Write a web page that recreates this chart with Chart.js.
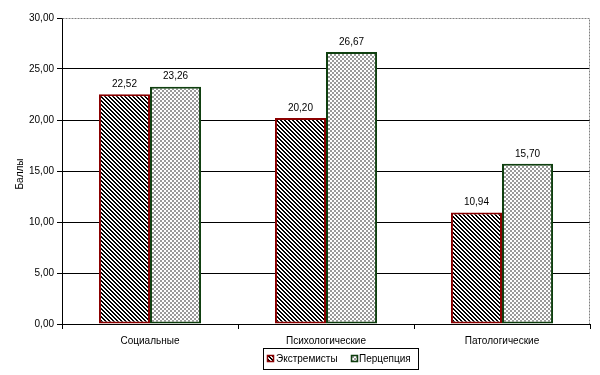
<!DOCTYPE html>
<html>
<head>
<meta charset="utf-8">
<script src="https://cdn.jsdelivr.net/npm/chart.js@4"></script>
<style>
html,body{margin:0;padding:0;background:#fff;}
#wrap{width:600px;height:375px;position:relative;}
</style>
</head>
<body>
<div id="wrap"><canvas id="c" width="600" height="375"></canvas></div>
<script>
const categories = ["Социальные", "Психологические", "Патологические"];
const seriesNames = ["Экстремисты", "Перцепция"];
const extremists = [22.52, 20.20, 10.94];
const perception = [23.26, 26.67, 15.70];
const yTicks = [0, 5, 10, 15, 20, 25, 30];
const yTitle = "Баллы";

const FONT = "'Liberation Sans', Arial, sans-serif";
const RED = '#8B0000';
const GREEN = '#0F3F0F';

function stripePattern(){
  const c = document.createElement('canvas');
  c.width = 8; c.height = 8;
  const g = c.getContext('2d');
  g.fillStyle = '#fff'; g.fillRect(0,0,8,8);
  g.fillStyle = '#000';
  for (let y=0;y<8;y++) for (let x=0;x<8;x++){
    if ((((x - y) % 4) + 4) % 4 < 2) g.fillRect(x,y,1,1);
  }
  return g.createPattern(c,'repeat');
}
function checkerPattern(){
  const c = document.createElement('canvas');
  c.width = 4; c.height = 4;
  const g = c.getContext('2d');
  g.fillStyle = '#fff'; g.fillRect(0,0,4,4);
  g.fillStyle = '#9a9a9a';
  g.fillRect(0,0,2,2); g.fillRect(2,2,2,2);
  return g.createPattern(c,'repeat');
}
const stripes = stripePattern();
const checks = checkerPattern();

const fmt = v => v.toFixed(2).replace('.', ',');

const extras = {
  id: 'extras',
  afterDatasetsDraw(chart){
    const ctx = chart.ctx;
    ctx.save();
    ctx.font = '10px ' + FONT;
    ctx.fillStyle = '#000';
    ctx.textAlign = 'center';
    ctx.textBaseline = 'bottom';
    chart.data.datasets.forEach((ds, i) => {
      chart.getDatasetMeta(i).data.forEach((bar, j) => {
        ctx.fillText(fmt(ds.data[j]), bar.x, bar.y - 5);
      });
    });
    ctx.restore();
  },
  afterDraw(chart){
    const ctx = chart.ctx;
    const a = chart.chartArea;
    ctx.save();
    // dashed top/right border
    ctx.strokeStyle = '#808080';
    ctx.lineWidth = 1;
    ctx.setLineDash([2,1]);
    ctx.beginPath();
    ctx.moveTo(Math.round(a.left)+0.5, Math.round(a.top)+0.5);
    ctx.lineTo(Math.round(a.right)-0.5, Math.round(a.top)+0.5);
    ctx.lineTo(Math.round(a.right)-0.5, Math.round(a.bottom));
    ctx.stroke();
    ctx.setLineDash([]);
    // y title
    ctx.save();
    ctx.translate(20, (a.top + a.bottom) / 2 + 3);
    ctx.rotate(-Math.PI / 2);
    ctx.font = '10px ' + FONT;
    ctx.fillStyle = '#000';
    ctx.textAlign = 'center';
    ctx.textBaseline = 'middle';
    ctx.fillText(yTitle, 0, 0);
    ctx.restore();
    // legend
    const lx = 263, ly = 348, lw = 155, lh = 21;
    ctx.fillStyle = '#fff';
    ctx.fillRect(lx, ly, lw, lh);
    ctx.strokeStyle = '#000';
    ctx.lineWidth = 1;
    ctx.strokeRect(lx+0.5, ly+0.5, lw, lh);
    ctx.font = '10px ' + FONT;
    ctx.textBaseline = 'middle';
    ctx.textAlign = 'left';
    const items = [
      {x: 267, tx: 276, fill: stripes, border: RED, label: seriesNames[0]},
      {x: 351, tx: 359, fill: checks, border: GREEN, label: seriesNames[1]}
    ];
    items.forEach(it => {
      const sy = 355;
      ctx.fillStyle = it.fill;
      ctx.fillRect(it.x, sy, 7, 7);
      ctx.strokeStyle = it.border;
      ctx.lineWidth = 1.5;
      ctx.strokeRect(it.x+0.5, sy+0.5, 6, 6);
      ctx.fillStyle = '#000';
      ctx.fillText(it.label, it.tx, ly + lh/2 + 1);
    });
    ctx.restore();
  }
};

new Chart(document.getElementById('c'), {
  type: 'bar',
  data: {
    labels: categories,
    datasets: [
      {label: seriesNames[0], data: extremists, backgroundColor: stripes, borderColor: RED, borderWidth: 2, borderSkipped: false},
      {label: seriesNames[1], data: perception, backgroundColor: checks, borderColor: GREEN, borderWidth: 2, borderSkipped: false}
    ]
  },
  options: {
    responsive: false,
    animation: false,
    devicePixelRatio: 1,
    layout: {padding: {left: 0, right: 10, top: 18, bottom: 0}},
    datasets: {bar: {categoryPercentage: 0.58, barPercentage: 1.0}},
    plugins: {legend: {display: false}, tooltip: {enabled: false}},
    scales: {
      x: {
        grid: {display: true, drawOnChartArea: false, drawTicks: true, tickLength: 5, color: '#000', offset: true},
        border: {color: '#000', width: 1},
        ticks: {color: '#000', font: {family: FONT, size: 10}, padding: 6, maxRotation: 0},
        afterFit(s){ s.height = 51; }
      },
      y: {
        min: 0, max: 30,
        afterBuildTicks(s){ s.ticks = yTicks.map(v => ({value: v})); },
        grid: {
          color: c => (c.tick && c.tick.value === 30) ? 'rgba(0,0,0,0)' : '#000',
          tickColor: '#000',
          tickLength: 5,
          drawTicks: true
        },
        border: {color: '#000', width: 1},
        ticks: {color: '#000', font: {family: FONT, size: 10}, padding: 3, callback: v => fmt(v)},
        title: {display: false},
        afterFit(s){ s.width = 62; }
      }
    }
  },
  plugins: [extras]
});
</script>
</body>
</html>
